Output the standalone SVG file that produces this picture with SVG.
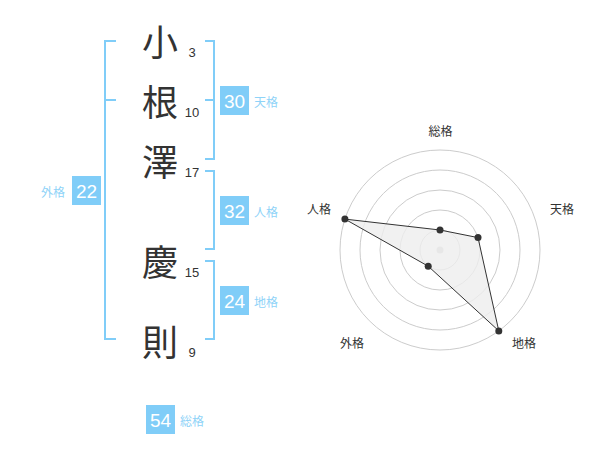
<svg xmlns="http://www.w3.org/2000/svg" width="600" height="470" viewBox="0 0 600 470">
<style>
.ch{font-family:"Noto Sans CJK JP","Noto Sans CJK SC",sans-serif;font-size:36px;fill:#333;text-anchor:middle;dominant-baseline:central}
.num{font-family:"Liberation Sans",Arial,sans-serif;font-size:13px;fill:#333;text-anchor:middle}
.br{fill:none;stroke:#80cdf8;stroke-width:2}
.box{fill:#80cdf8}
.bn{font-family:"Liberation Sans",Arial,sans-serif;font-size:19px;fill:#fff;text-anchor:middle;dominant-baseline:central}
.bl{font-family:"Noto Sans CJK JP","Noto Sans CJK SC",sans-serif;font-size:12px;fill:#8fd3f8;dominant-baseline:central}
.ring{fill:none;stroke:#cccccc;stroke-width:1}
.rl{font-family:"Noto Sans CJK JP","Noto Sans CJK SC",sans-serif;font-size:12px;fill:#333;text-anchor:middle;dominant-baseline:central}
.dot{fill:#333}
</style>
<rect width="600" height="470" fill="#fff"/>
<g id="char-1"><text class="ch" x="160" y="40">小</text><text class="num" x="192" y="57">3</text></g>
<g id="char-2"><text class="ch" x="160" y="100">根</text><text class="num" x="192" y="117">10</text></g>
<g id="char-3"><text class="ch" x="160" y="160">澤</text><text class="num" x="192" y="177">17</text></g>
<g id="char-4"><text class="ch" x="160" y="260">慶</text><text class="num" x="192" y="277">15</text></g>
<g id="char-5"><text class="ch" x="160" y="340">則</text><text class="num" x="192" y="357">9</text></g>
<g id="connectors">
<path class="br" d="M116,41 H105 V339 H116 M105,100 H116"/>
<path class="br" d="M205,41 H214 V159 H205 M214,100 H205"/>
<path class="br" d="M205,171 H214 V249 H205"/>
<path class="br" d="M205,261 H214 V339 H205"/>
</g>
<g id="tenkaku"><rect class="box" x="220" y="86" width="29" height="29"/><text class="bn" x="234.5" y="101">30</text><text class="bl" x="254" y="101">天格</text></g>
<g id="jinkaku"><rect class="box" x="220" y="196" width="29" height="29"/><text class="bn" x="234.5" y="211">32</text><text class="bl" x="254" y="211">人格</text></g>
<g id="chikaku"><rect class="box" x="220" y="286" width="29" height="29"/><text class="bn" x="234.5" y="301">24</text><text class="bl" x="254" y="301">地格</text></g>
<g id="gaikaku"><rect class="box" x="72" y="176" width="29" height="29"/><text class="bn" x="86.5" y="191">22</text><text class="bl" x="65" y="191" text-anchor="end">外格</text></g>
<g id="soukaku"><rect class="box" x="146" y="405" width="29" height="29"/><text class="bn" x="160.5" y="420">54</text><text class="bl" x="180" y="420">総格</text></g>
<g id="radar">
<circle class="ring" cx="440" cy="250" r="20"/>
<circle class="ring" cx="440" cy="250" r="40"/>
<circle class="ring" cx="440" cy="250" r="60"/>
<circle class="ring" cx="440" cy="250" r="80"/>
<circle class="ring" cx="440" cy="250" r="100"/>
<circle cx="440" cy="250" r="3.5" fill="#cccccc"/>
<polygon points="440,230 478,237.6 498.8,330.9 428.2,266.2 344.9,219.1" fill="#eeeeee" fill-opacity="0.8" stroke="#333" stroke-width="1"/>
<circle class="dot" cx="440" cy="230" r="3.5"/>
<circle class="dot" cx="478" cy="237.6" r="3.5"/>
<circle class="dot" cx="498.8" cy="330.9" r="3.5"/>
<circle class="dot" cx="428.2" cy="266.2" r="3.5"/>
<circle class="dot" cx="344.9" cy="219.1" r="3.5"/>
<text class="rl" x="440.5" y="130">総格</text>
<text class="rl" x="562" y="208.5">天格</text>
<text class="rl" x="524" y="342">地格</text>
<text class="rl" x="352" y="342.5">外格</text>
<text class="rl" x="319" y="208.5">人格</text>
</g>
</svg>
